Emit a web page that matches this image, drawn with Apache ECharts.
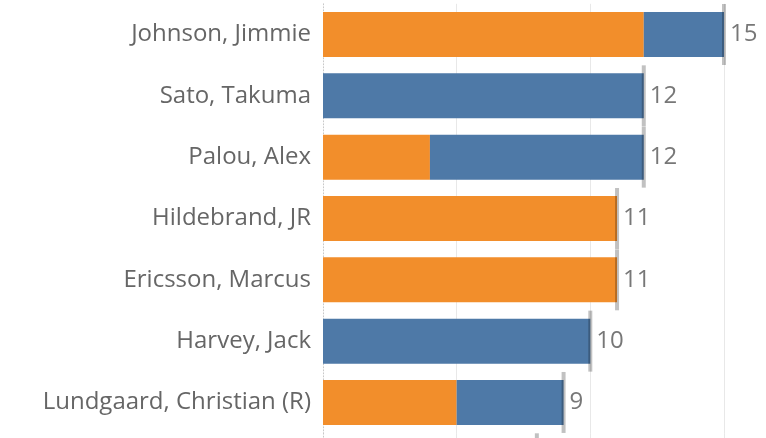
<!DOCTYPE html>
<html><head><meta charset="utf-8">
<script src="https://cdn.jsdelivr.net/npm/echarts@6/dist/echarts.min.js"></script>
<style>html,body{margin:0;padding:0;background:#fff}#c{width:766px;height:438px}</style>
</head><body><div id="c"></div>
<script>
const categories = ['Johnson, Jimmie','Sato, Takuma','Palou, Alex','Hildebrand, JR','Ericsson, Marcus','Harvey, Jack','Lundgaard, Christian (R)'];
const orangeValues = [12, 0, 4, 11, 11, 0, 5];
const blueValues   = [3, 12, 8, 0, 0, 10, 4];
const totals = [15, 12, 12, 11, 11, 10, 9];
// next row (cut off at the bottom edge): only its total tick peeks in
const nextRowTotal = 8;
const xTicks = [0, 5, 10, 15];

const FONT = '"Open Sans", "Noto Sans", sans-serif';
const xAxisBase = (gi) => ({type:'value', gridIndex:gi, min:xTicks[0], max:16, interval:xTicks[1]-xTicks[0],
    axisLabel:{show:false}, axisTick:{show:false}, axisLine:{show:false},
    splitLine:{show:true, lineStyle:{color:['rgba(0,0,0,0)','#e8e8e8','#e8e8e8','#e8e8e8'], width:1}}});
const chart = echarts.init(document.getElementById('c'), null, {renderer:'canvas'});
chart.setOption({
  animation:false,
  backgroundColor:'#fff',
  grid:[
    {left:323, top:3.83, width:427.7, height:429.3, containLabel:false},
    {left:323, top:433.13, width:427.7, bottom:0, containLabel:false}
  ],
  xAxis:[xAxisBase(0), xAxisBase(1)],
  yAxis:[
    {type:'category', gridIndex:0, data:categories, inverse:true,
      axisTick:{show:false},
      axisLine:{show:true, lineStyle:{color:'#c8c8c8', type:[1,2], width:1}},
      axisLabel:{color:'#666', fontSize:24, fontFamily:FONT, margin:12}},
    {type:'category', gridIndex:1, data:[''], inverse:true,
      axisTick:{show:false}, axisLabel:{show:false},
      axisLine:{show:true, lineStyle:{color:'#c8c8c8', type:[1,2], width:1}}}
  ],
  series:[
    {type:'bar', stack:'a', data:orangeValues, barWidth:45, itemStyle:{color:'#F28E2B'}, z:2},
    {type:'bar', stack:'a', data:blueValues, barWidth:45, itemStyle:{color:'#4E79A7'}, z:2},
    {type:'scatter', data:totals.map((v,i)=>[v,i]).concat([[nextRowTotal, categories.length]]),
      clip:false, symbol:'rect', symbolSize:[4,61], z:3,
      itemStyle:{color:'rgba(0,0,0,0.3)'},
      label:{show:true, position:'right', distance:4, color:'#555', fontSize:24, fontFamily:FONT,
        formatter:p=>String(p.value[0])}}
  ]
});
</script></body></html>
